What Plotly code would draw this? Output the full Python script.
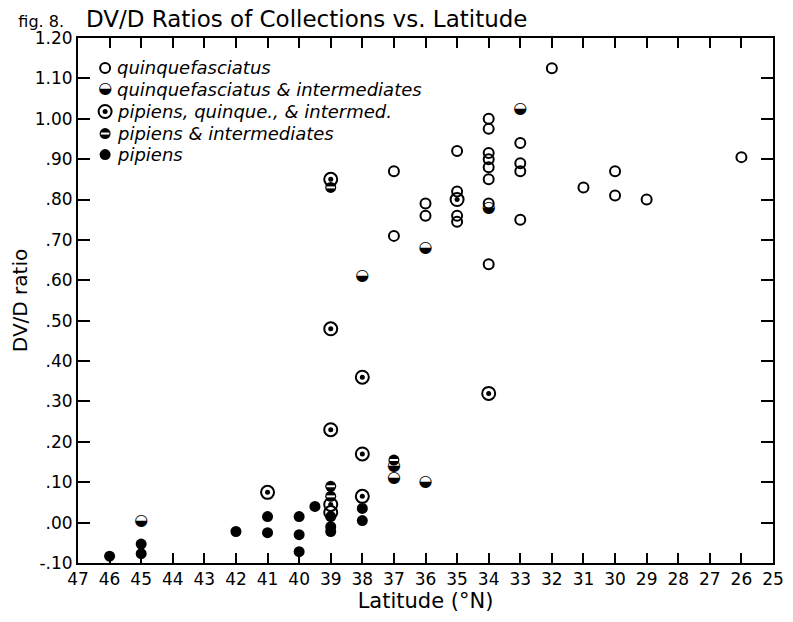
import plotly.graph_objects as go

# quinquefasciatus (open circles)
lat_quinque = [37, 37, 36, 36, 35, 35, 35, 35, 34, 34, 34, 34, 34, 34, 34, 34,
               33, 33, 33, 33, 32, 31, 30, 30, 29, 26]
dvd_quinque = [0.87, 0.71, 0.79, 0.76, 0.92, 0.82, 0.76, 0.745, 1.00, 0.975, 0.915, 0.90, 0.88, 0.85, 0.79, 0.64,
               0.94, 0.89, 0.87, 0.75, 1.125, 0.83, 0.87, 0.81, 0.80, 0.905]

# quinquefasciatus & intermediates (lower half filled)
lat_quinque_int = [45, 38, 37, 37, 36, 36, 34, 33]
dvd_quinque_int = [0.005, 0.61, 0.14, 0.11, 0.68, 0.10, 0.78, 1.025]

# pipiens, quinque. & intermed. (ring with dot)
lat_mixed = [41, 39, 39, 39, 39, 39, 38, 38, 38, 35, 34]
dvd_mixed = [0.075, 0.85, 0.48, 0.23, 0.045, 0.025, 0.36, 0.17, 0.065, 0.80, 0.32]

# pipiens & intermediates (filled with white band)
lat_pipiens_int = [39, 39, 39, 37]
dvd_pipiens_int = [0.83, 0.09, 0.065, 0.155]

# pipiens (filled)
lat_pipiens = [46, 45, 45, 42, 41, 41, 40, 40, 40, 39.5, 39, 39, 39, 38, 38]
dvd_pipiens = [-0.083, -0.053, -0.077, -0.022, 0.015, -0.025, 0.015, -0.03, -0.072, 0.04, 0.015, -0.01, -0.022, 0.035, 0.005]

legend_names = ["quinquefasciatus", "quinquefasciatus & intermediates", "pipiens, quinque., & intermed.",
                "pipiens & intermediates", "pipiens"]

y_ticks = [-0.1, 0.0, 0.1, 0.2, 0.3, 0.4, 0.5, 0.6, 0.7, 0.8, 0.9, 1.0, 1.1, 1.2]
y_labels = ["-.10", ".00", ".10", ".20", ".30", ".40", ".50", ".60", ".70", ".80", ".90", "1.00", "1.10", "1.20"]
x_ticks = list(range(47, 24, -1))

FONT = "DejaVu Sans"
ink = "black"

# legend key placement, as fractions of the plot area (overlay axes 0..1)
key_x = 0.039
text_x = 0.053
key_y = [0.943, 0.902, 0.860, 0.818, 0.778]


def open_circle(x, y, xa="x", ya="y"):
    return go.Scatter(x=x, y=y, mode="markers", xaxis=xa, yaxis=ya,
                      marker=dict(symbol="circle-open", size=10, color=ink, line=dict(width=2)))


def half_filled(x, y, xa="x", ya="y"):
    return go.Scatter(x=x, y=y, mode="text", xaxis=xa, yaxis=ya, text=["\u25d2"] * len(x),
                      textposition="middle center", textfont=dict(family=FONT, size=16, color=ink))


def ring_dot(x, y, xa="x", ya="y"):
    return [go.Scatter(x=x, y=y, mode="markers", xaxis=xa, yaxis=ya,
                       marker=dict(symbol="circle-open", size=13, color=ink, line=dict(width=2))),
            go.Scatter(x=x, y=y, mode="markers", xaxis=xa, yaxis=ya,
                       marker=dict(symbol="circle", size=5, color=ink))]


def banded(x, y, xa="x", ya="y"):
    return [go.Scatter(x=x, y=y, mode="markers", xaxis=xa, yaxis=ya,
                       marker=dict(symbol="circle", size=11, color=ink)),
            go.Scatter(x=x, y=y, mode="markers", xaxis=xa, yaxis=ya,
                       marker=dict(symbol="line-ew", size=6, line=dict(color="white", width=2)))]


def filled(x, y, xa="x", ya="y"):
    return go.Scatter(x=x, y=y, mode="markers", xaxis=xa, yaxis=ya,
                      marker=dict(symbol="circle", size=11, color=ink))


fig = go.Figure()
fig.add_trace(open_circle(lat_quinque, dvd_quinque))
fig.add_trace(half_filled(lat_quinque_int, dvd_quinque_int))
fig.add_traces(ring_dot(lat_mixed, dvd_mixed))
fig.add_traces(banded(lat_pipiens_int, dvd_pipiens_int))
fig.add_trace(filled(lat_pipiens, dvd_pipiens))

# legend keys drawn on an invisible overlay axis
fig.add_trace(open_circle([key_x], [key_y[0]], "x2", "y2"))
fig.add_trace(half_filled([key_x], [key_y[1]], "x2", "y2"))
fig.add_traces(ring_dot([key_x], [key_y[2]], "x2", "y2"))
fig.add_traces(banded([key_x], [key_y[3]], "x2", "y2"))
fig.add_trace(filled([key_x], [key_y[4]], "x2", "y2"))

for i, name in enumerate(legend_names):
    fig.add_annotation(x=text_x, y=key_y[i], xref="paper", yref="paper", text="<i>" + name + "</i>",
                       showarrow=False, xanchor="left", yanchor="middle",
                       font=dict(family=FONT, size=18, color=ink))

fig.update_layout(
    width=793, height=622,
    margin=dict(l=70, r=28, t=30, b=67),
    paper_bgcolor="white", plot_bgcolor="white",
    showlegend=False,
    font=dict(family=FONT, color=ink),
    title=dict(text="<span style='font-size:16px'>fig. 8.</span>   DV/D Ratios of Collections vs. Latitude",
               x=0.013, xanchor="left", xref="container", y=0.996, yanchor="top",
               font=dict(family=FONT, size=23, color=ink)),
    xaxis=dict(range=[47, 25], tickvals=x_ticks, ticktext=[str(v) for v in x_ticks],
               ticks="inside", ticklen=10, tickwidth=2, tickcolor=ink,
               showline=True, linewidth=2, linecolor=ink, mirror="ticks",
               showgrid=False, zeroline=False, tickfont=dict(size=17),
               title=dict(text="Latitude (°N)", font=dict(size=21), standoff=4)),
    yaxis=dict(range=[-0.1, 1.2], tickvals=y_ticks, ticktext=y_labels,
               ticks="inside", ticklen=12, tickwidth=2, tickcolor=ink,
               showline=True, linewidth=2, linecolor=ink, mirror="ticks",
               showgrid=False, zeroline=False, tickfont=dict(size=17),
               title=dict(text="DV/D ratio", font=dict(size=20), standoff=2)),
    xaxis2=dict(overlaying="x", range=[0, 1], visible=False),
    yaxis2=dict(overlaying="y", range=[0, 1], visible=False),
)

fig.write_html("out.html")
